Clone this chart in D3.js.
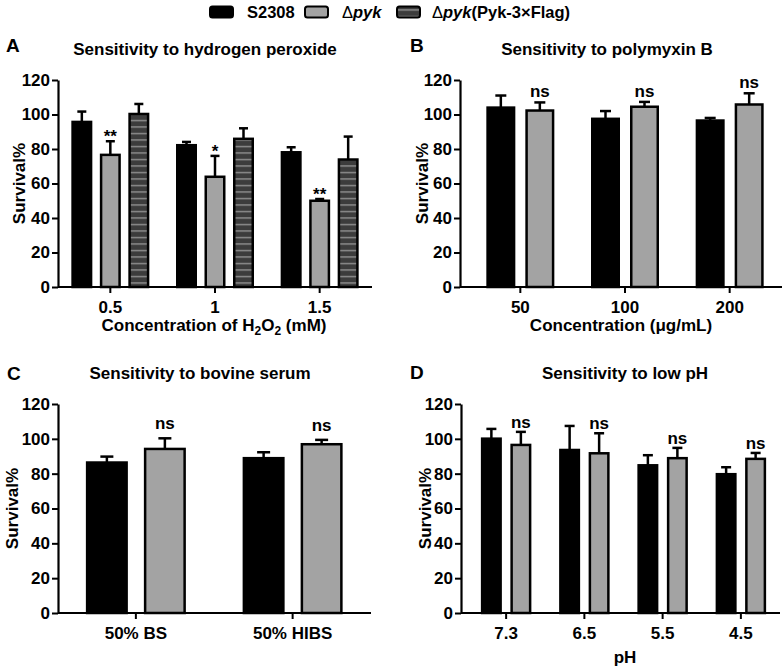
<!DOCTYPE html>
<html>
<head>
<meta charset="utf-8">
<script src="https://cdn.jsdelivr.net/npm/d3@7"></script>
<style>
  html, body { margin: 0; padding: 0; background: #fff; }
  svg text { font-family: "Liberation Sans", Arial, sans-serif; font-weight: bold; fill: #000; }
</style>
</head>
<body>
<svg id="chart" width="784" height="667"></svg>
<script>
// ---------------- DATA ----------------
const seriesNames = ["S2308", "Δpyk", "Δpyk(Pyk-3×Flag)"];
const yTicks = [0, 20, 40, 60, 80, 100, 120];

// Panel A: hydrogen peroxide
const catsA = ["0.5", "1", "1.5"];
const a_S2308 = [95.7, 82.2, 78.1];
const a_S2308_sd = [6.0, 1.9, 2.9];
const a_pyk = [76.6, 63.9, 50.0];
const a_pyk_sd = [7.9, 12.1, 1.0];
const a_comp = [100.3, 85.9, 73.9];
const a_comp_sd = [5.8, 6.1, 13.3];
const a_sig = ["**", "*", "**"];

// Panel B: polymyxin B
const catsB = ["50", "100", "200"];
const b_S2308 = [104.0, 97.5, 96.5];
const b_S2308_sd = [7.0, 4.5, 1.5];
const b_pyk = [102.3, 104.5, 105.8];
const b_pyk_sd = [4.7, 2.8, 6.5];
const b_sig = ["ns", "ns", "ns"];

// Panel C: bovine serum
const catsC = ["50% BS", "50% HIBS"];
const c_S2308 = [86.4, 88.9];
const c_S2308_sd = [3.4, 3.4];
const c_pyk = [94.2, 96.9];
const c_pyk_sd = [6.1, 2.5];
const c_sig = ["ns", "ns"];

// Panel D: low pH
const catsD = ["7.3", "6.5", "5.5", "4.5"];
const d_S2308 = [100.1, 93.6, 84.8, 79.7];
const d_S2308_sd = [5.6, 13.8, 5.8, 4.0];
const d_pyk = [96.5, 91.7, 88.9, 88.5];
const d_pyk_sd = [7.5, 11.5, 5.9, 3.4];
const d_sig = ["ns", "ns", "ns", "ns"];

// ---------------- DRAWING ----------------
const svg = d3.select("#chart");
const defs = svg.append("defs");
const pat = defs.append("pattern")
  .attr("id", "stripes").attr("patternUnits", "userSpaceOnUse")
  .attr("width", 8).attr("height", 6.5);
pat.append("rect").attr("width", 8).attr("height", 6.5).attr("fill", "#3c3c3c");
pat.append("rect").attr("y", 3).attr("width", 8).attr("height", 1.1).attr("fill", "#a8a8a8");

const fills = ["#000", "#a3a3a3", "url(#stripes)"];
const FS = "17px";

function panel(cfg) {
  const g = svg.append("g");
  const y = d3.scaleLinear().domain([0, 120]).range([cfg.y0, cfg.y1]);
  const x = d3.scaleBand().domain(cfg.cats).range([cfg.bandStart, cfg.right]).padding(0);

  // y axis
  const ya = g.append("g").attr("transform", `translate(${cfg.axisX},0)`)
    .call(d3.axisLeft(y).tickValues(yTicks).tickSize(6).tickSizeOuter(0).tickPadding(2));
  ya.select(".domain").attr("stroke-width", 2.2);
  ya.selectAll(".tick line").attr("stroke-width", 2);
  ya.selectAll(".tick text").style("font-size", FS).style("font-family", "Liberation Sans, Arial").style("font-weight", "bold");

  // x axis
  const xa = g.append("g").attr("transform", `translate(0,${cfg.y0})`)
    .call(d3.axisBottom(x).tickSize(6).tickSizeOuter(0).tickPadding(8));
  xa.select(".domain").attr("d", `M${cfg.axisX},0H${cfg.right}`).attr("stroke-width", 2.2);
  xa.selectAll(".tick line").attr("stroke-width", 2);
  xa.selectAll(".tick text").style("font-size", FS).style("font-family", "Liberation Sans, Arial").style("font-weight", "bold");

  // bars
  const n = cfg.series.length;
  cfg.series.forEach((s, si) => {
    const off = (si - (n - 1) / 2) * cfg.step;
    const bw = cfg.barW - 2.5;
    cfg.cats.forEach((c, i) => {
      const cx = x(c) + x.bandwidth() / 2 + off;
      const v = s.values[i], sd = s.sd[i];
      // error bar (upper only)
      g.append("line").attr("x1", cx).attr("x2", cx)
        .attr("y1", y(v)).attr("y2", y(v + sd))
        .attr("stroke", "#000").attr("stroke-width", 2.5);
      g.append("line").attr("x1", cx - cfg.cap / 2).attr("x2", cx + cfg.cap / 2)
        .attr("y1", y(v + sd)).attr("y2", y(v + sd))
        .attr("stroke", "#000").attr("stroke-width", 2.5);
      g.append("rect").attr("x", cx - bw / 2).attr("y", y(v))
        .attr("width", bw).attr("height", y(0) - y(v))
        .attr("fill", fills[si]).attr("stroke", "#000").attr("stroke-width", 2.5);
      if (s.sig) {
        g.append("text").attr("x", cx).attr("y", y(v + sd) - (s.sig[i] === "ns" ? cfg.nsOff : cfg.starOff))
          .attr("text-anchor", "middle").style("font-size", FS).text(s.sig[i]);
      }
    });
  });

  // titles
  g.append("text").attr("x", cfg.letterX).attr("y", cfg.letterY).style("font-size", "19px").text(cfg.letter);
  g.append("text").attr("x", cfg.titleX).attr("y", cfg.titleY).attr("text-anchor", "middle")
    .style("font-size", FS).text(cfg.title);
  g.append("text").attr("transform", `translate(${cfg.yTitleX},${(cfg.y0 + cfg.y1) / 2}) rotate(-90)`)
    .attr("text-anchor", "middle").style("font-size", FS).text("Survival%");
  if (cfg.xTitle) cfg.xTitle(g);
}

panel({
  cats: catsA, letter: "A", letterX: 6, letterY: 52,
  title: "Sensitivity to hydrogen peroxide", titleX: 205, titleY: 55,
  axisX: 58, bandStart: 58, right: 372, y0: 287, y1: 80, barW: 21, step: 28.5, cap: 9,
  yTitleX: 25, nsOff: 5, starOff: -1,
  series: [
    { values: a_S2308, sd: a_S2308_sd },
    { values: a_pyk, sd: a_pyk_sd, sig: a_sig },
    { values: a_comp, sd: a_comp_sd }
  ],
  xTitle: g => {
    const t = g.append("text").attr("x", 214).attr("y", 331).attr("text-anchor", "middle").style("font-size", FS);
    t.append("tspan").text("Concentration of H");
    t.append("tspan").attr("dy", 4).style("font-size", "12px").text("2");
    t.append("tspan").attr("dy", -4).text("O");
    t.append("tspan").attr("dy", 4).style("font-size", "12px").text("2");
    t.append("tspan").attr("dy", -4).text(" (mM)");
  }
});

panel({
  cats: catsB, letter: "B", letterX: 410, letterY: 52,
  title: "Sensitivity to polymyxin B", titleX: 607, titleY: 55,
  axisX: 460, bandStart: 468, right: 782, y0: 287, y1: 80, barW: 29, step: 39, cap: 11,
  yTitleX: 428, nsOff: 5, starOff: -1,
  series: [
    { values: b_S2308, sd: b_S2308_sd },
    { values: b_pyk, sd: b_pyk_sd, sig: b_sig }
  ],
  xTitle: g => {
    g.append("text").attr("x", 621).attr("y", 331).attr("text-anchor", "middle").style("font-size", FS)
      .text("Concentration (μg/mL)");
  }
});

panel({
  cats: catsC, letter: "C", letterX: 7, letterY: 380,
  title: "Sensitivity to bovine serum", titleX: 200, titleY: 379,
  axisX: 58, bandStart: 57.5, right: 371, y0: 613, y1: 404, barW: 42, step: 58, cap: 13,
  yTitleX: 18, nsOff: 9, starOff: -1,
  series: [
    { values: c_S2308, sd: c_S2308_sd },
    { values: c_pyk, sd: c_pyk_sd, sig: c_sig }
  ]
});

panel({
  cats: catsD, letter: "D", letterX: 410, letterY: 379,
  title: "Sensitivity to low pH", titleX: 625, titleY: 379,
  axisX: 461, bandStart: 467, right: 780, y0: 613, y1: 404, barW: 21, step: 29.5, cap: 10,
  yTitleX: 431, nsOff: 4, starOff: -1,
  series: [
    { values: d_S2308, sd: d_S2308_sd },
    { values: d_pyk, sd: d_pyk_sd, sig: d_sig }
  ],
  xTitle: g => {
    g.append("text").attr("x", 625).attr("y", 663).attr("text-anchor", "middle").style("font-size", FS).text("pH");
  }
});

// ---------------- LEGEND ----------------
const legend = svg.append("g");
const legX = [210, 305, 397];
const legTextX = [247, 342, 432];
seriesNames.forEach((name, i) => {
  legend.append("rect").attr("x", legX[i]).attr("y", 6.5).attr("width", 23).attr("height", 11)
    .attr("rx", 2.5).attr("fill", fills[i]).attr("stroke", "#000").attr("stroke-width", 2);
  const t = legend.append("text").attr("x", legTextX[i]).attr("y", 18).style("font-size", "16.5px");
  if (name.startsWith("Δpyk")) {
    t.append("tspan").style("font-weight", "normal").text("Δ");
    t.append("tspan").style("font-style", "italic").text("pyk");
    t.append("tspan").text(name.slice(4));
  } else {
    t.text(name);
  }
});
</script>
</body>
</html>
